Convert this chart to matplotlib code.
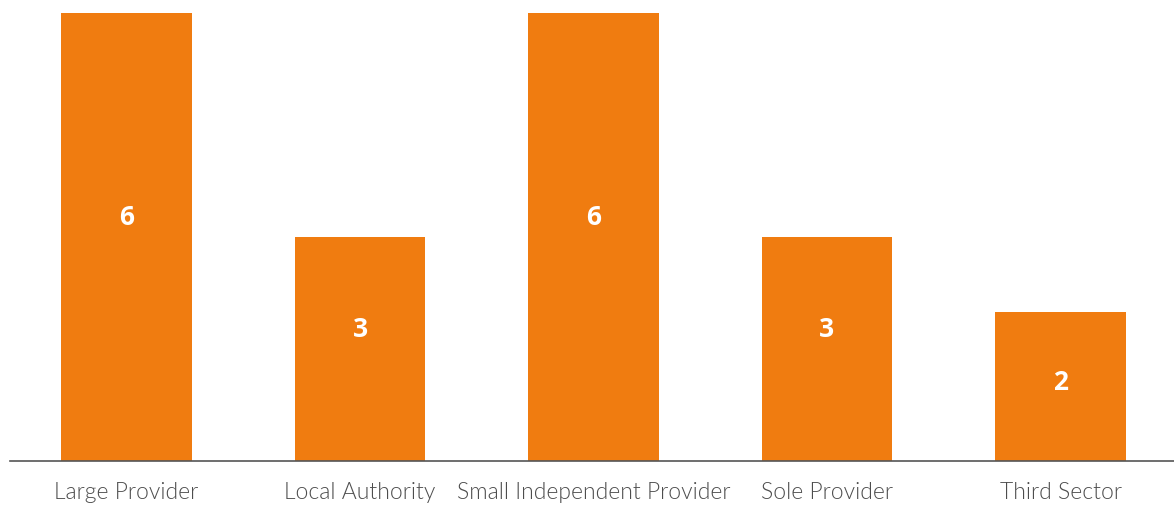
import matplotlib.pyplot as plt

categories = ['Large Provider', 'Local Authority', 'Small Independent Provider',
              'Sole Provider', 'Third Sector']
counts = [6, 3, 6, 3, 2]

bar_color = '#F07C10'

fig = plt.figure(figsize=(11.74, 5.05), dpi=100)
# axes runs a few pixels past the right edge, as in the original
ax = fig.add_axes([9.75 / 1174, 44 / 505, 1167.5 / 1174, 448 / 505])

x = range(len(categories))
bars = ax.bar(x, counts, width=0.561, color=bar_color)

# value labels sit a little above the bar middle in the original
for b, v in zip(bars, counts):
    ypos = v / 2 + (0.26 if v > 2 else 0.05)
    ax.text(b.get_x() + b.get_width() / 2, ypos, str(v), ha='center', va='center',
            color='white', fontsize=19, fontweight='bold', family='Open Sans')

ax.set_xlim(-0.5, len(categories) - 0.5)
ax.set_ylim(0, 6)
ax.set_xticks(list(x))
ax.set_xticklabels(categories, family='Lato', fontweight=300, fontsize=16.5,
                   color='#4d4d4d')
ax.tick_params(axis='x', length=0, pad=15)
ax.set_yticks([])
for s in ['top', 'right', 'left']:
    ax.spines[s].set_visible(False)
ax.spines['bottom'].set_color('#555555')
ax.spines['bottom'].set_linewidth(1.2)

fig.savefig('out.png', dpi=100)
